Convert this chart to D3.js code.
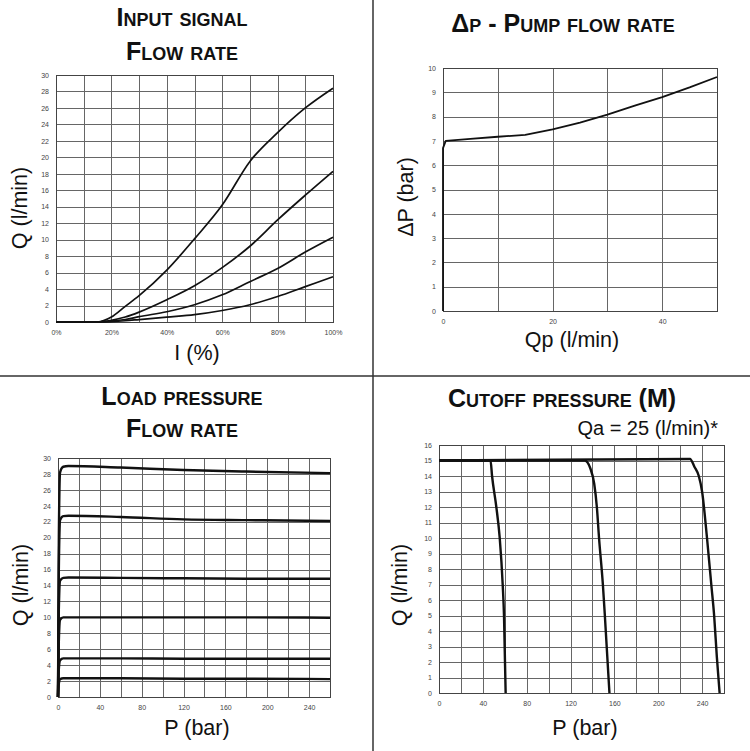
<!DOCTYPE html>
<html>
<head>
<meta charset="utf-8">
<script src="https://cdn.jsdelivr.net/npm/d3@7"></script>
<style>
  body { margin: 0; background: #fff; }
  svg { display: block; font-family: "Liberation Sans", Arial, Helvetica, sans-serif; }
</style>
</head>
<body>
<svg id="chart" width="750" height="751"></svg>
<script>
// Input signal / flow rate
const signalPct = [0, 15, 20, 25, 30, 40, 50, 60, 70, 80, 90, 100];
const flowA = [0, 0, 0.6, 1.9, 3.2, 6.3, 10.1, 14.2, 19.5, 23.0, 26.0, 28.4];
const flowB = [0, 0, 0.2, 0.6, 1.2, 2.7, 4.4, 6.6, 9.2, 12.4, 15.4, 18.3];
const flowC = [0, 0, 0.1, 0.3, 0.65, 1.25, 2.1, 3.3, 4.9, 6.5, 8.5, 10.3];
const flowD = [0, 0, 0.05, 0.15, 0.3, 0.6, 0.9, 1.4, 2.1, 3.1, 4.3, 5.5];

// Delta P / pump flow rate
const pumpQ = [0, 0, 0.5, 5, 10, 15, 20, 25, 30, 35, 40, 45, 50];
const deltaP = [0, 6.7, 7.0, 7.08, 7.17, 7.25, 7.47, 7.75, 8.08, 8.45, 8.8, 9.2, 9.63];

// Load pressure / flow rate
const loadP = [0, 0.8, 2, 5, 10, 60, 120, 180, 260];
const load29 = [0, 20, 28.2, 28.9, 29.0, 28.8, 28.5, 28.3, 28.1];
const load22 = [0, 16, 22.2, 22.7, 22.75, 22.6, 22.3, 22.2, 22.1];
const load15 = [0, 11, 14.6, 14.95, 15.0, 14.95, 14.9, 14.85, 14.85];
const load10 = [0, 7, 9.7, 10.0, 10.0, 10.0, 10.0, 10.0, 9.95];
const load5 = [0, 3.5, 4.6, 4.85, 4.85, 4.85, 4.8, 4.8, 4.8];
const load2 = [0, 1.7, 2.25, 2.35, 2.35, 2.35, 2.3, 2.3, 2.25];

// Cutoff pressure
const cut1P = [0, 47, 48.4, 52.3, 55.4, 58.1, 59.3, 60.8];
const cut1Q = [15, 15, 14, 12, 10, 7, 5, 0];
const cut2P = [0, 133, 138, 141.6, 144, 146, 149.5, 151.3, 155.5];
const cut2Q = [15, 15, 14.5, 13.5, 12, 10, 7, 5, 0];
const cut3P = [0, 229, 233, 237, 240, 244.5, 248.4, 251, 253.5, 256];
const cut3Q = [15, 15.1, 14.6, 14, 13, 10, 7, 5, 2.3, 0];

// Tick values
const signalGrid = d3.range(0, 101, 10);
const signalTicks = d3.range(0, 101, 20);
const flowTicks30 = d3.range(0, 31, 2);
const pumpGrid = d3.range(0, 51, 10);
const pumpTicks = [0, 20, 40];
const dpTicks = d3.range(0, 11, 1);
const pressGrid = d3.range(0, 261, 20);
const pressTicks = d3.range(0, 241, 40);
const cutTicks = d3.range(0, 17, 1);

const svg = d3.select('#chart');

// Cross dividers
svg.append('line').attr('x1', 373).attr('x2', 373).attr('y1', 0).attr('y2', 751)
    .attr('stroke', '#333').attr('stroke-width', 1.5);
svg.append('line').attr('x1', 0).attr('x2', 750).attr('y1', 376).attr('y2', 376)
    .attr('stroke', '#333').attr('stroke-width', 1.5);

// Title with small caps: lowercase letters become smaller capitals
const smallCapsTitle = (x, y, str, big, small, weight = 'bold') => {
    const t = svg.append('text').attr('x', x).attr('y', y)
        .attr('text-anchor', 'middle').attr('font-weight', weight).attr('fill', '#111');
    let runs = [];
    for (const ch of str) {
        const size = (ch !== ch.toUpperCase()) ? small : big;
        if (runs.length && runs[runs.length - 1].size === size) runs[runs.length - 1].s += ch.toUpperCase();
        else runs.push({ size, s: ch.toUpperCase() });
    }
    runs.forEach(r => t.append('tspan').attr('font-size', r.size).text(r.s));
    return t;
};

const plainText = (x, y, str, size, rotate = false, anchor = 'middle') => {
    const t = svg.append('text').attr('font-size', size).attr('fill', '#111')
        .attr('text-anchor', anchor).text(str);
    if (rotate) t.attr('transform', `translate(${x},${y}) rotate(-90)`);
    else t.attr('x', x).attr('y', y);
    return t;
};

// Draw one panel: grid, tick labels, frame, curves
const drawPanel = (o) => {
    const x = d3.scaleLinear().domain(o.xDomain).range(o.xRange);
    const y = d3.scaleLinear().domain(o.yDomain).range(o.yRange);
    const g = svg.append('g');
    const h = o.yRange[0] - o.yRange[1];
    const w = o.xRange[1] - o.xRange[0];

    // vertical grid
    g.append('g').attr('transform', `translate(0,${o.yRange[0]})`)
        .call(d3.axisBottom(x).tickValues(o.xGrid).tickSize(-h).tickFormat(''))
        .call(a => a.select('.domain').remove())
        .call(a => a.selectAll('line').attr('stroke', '#666').attr('shape-rendering', 'crispEdges'));
    // horizontal grid
    g.append('g').attr('transform', `translate(${o.xRange[0]},0)`)
        .call(d3.axisLeft(y).tickValues(o.yGrid).tickSize(-w).tickFormat(''))
        .call(a => a.select('.domain').remove())
        .call(a => a.selectAll('line').attr('stroke', '#666').attr('shape-rendering', 'crispEdges'));

    // x tick labels
    g.append('g').attr('transform', `translate(0,${o.yRange[0]})`)
        .call(d3.axisBottom(x).tickValues(o.xTicks).tickSize(0).tickPadding(8).tickFormat(o.xFormat || d3.format('d')))
        .call(a => a.select('.domain').remove())
        .call(a => a.selectAll('text').attr('font-size', 7).attr('fill', '#444')
            .attr('font-family', '"Liberation Sans", Arial, sans-serif'));
    // y tick labels
    g.append('g').attr('transform', `translate(${o.xRange[0]},0)`)
        .call(d3.axisLeft(y).tickValues(o.yGrid).tickSize(0).tickPadding(7).tickFormat(d3.format('d')))
        .call(a => a.select('.domain').remove())
        .call(a => a.selectAll('text').attr('font-size', 7).attr('fill', '#444')
            .attr('font-family', '"Liberation Sans", Arial, sans-serif'));

    // frame
    g.append('rect').attr('x', o.xRange[0]).attr('y', o.yRange[1]).attr('width', w).attr('height', h)
        .attr('fill', 'none').attr('stroke', '#444').attr('shape-rendering', 'crispEdges');

    // curves
    const line = d3.line().x(d => x(d[0])).y(d => y(d[1])).curve(o.curve || d3.curveLinear);
    o.series.forEach(s => {
        g.append('path').datum(s.xs.map((v, i) => [v, s.ys[i]]))
            .attr('d', line).attr('fill', 'none').attr('stroke', '#111')
            .attr('stroke-width', o.lineWidth).attr('stroke-linejoin', 'round');
    });
};

// Panel 1
drawPanel({
    xDomain: [0, 100], xRange: [56, 333], yDomain: [0, 30], yRange: [322, 75],
    xGrid: signalGrid, xTicks: signalTicks, yGrid: flowTicks30,
    xFormat: d => d + '%', curve: d3.curveMonotoneX, lineWidth: 1.7,
    series: [flowA, flowB, flowC, flowD].map(ys => ({ xs: signalPct, ys }))
});
smallCapsTitle(182, 26, 'Input signal', 25, 18);
smallCapsTitle(182, 60, 'Flow rate', 25, 18);
plainText(197, 360, 'I (%)', 21.5);
plainText(27, 208, 'Q (l/min)', 21.5, true);

// Panel 2
drawPanel({
    xDomain: [0, 50], xRange: [443, 717], yDomain: [0, 10], yRange: [311, 68],
    xGrid: pumpGrid, xTicks: pumpTicks, yGrid: dpTicks, lineWidth: 1.8,
    series: [{ xs: pumpQ, ys: deltaP }]
});
smallCapsTitle(563, 32, 'Δp - Pump flow rate', 25, 18);
plainText(572, 347, 'Qp (l/min)', 21.5);
plainText(413, 197, 'ΔP (bar)', 21.5, true);

// Panel 3
drawPanel({
    xDomain: [0, 260], xRange: [58, 330], yDomain: [0, 30], yRange: [697, 458],
    xGrid: pressGrid, xTicks: pressTicks, yGrid: flowTicks30,
    curve: d3.curveMonotoneX, lineWidth: 2.4,
    series: [load29, load22, load15, load10, load5, load2].map(ys => ({ xs: loadP, ys }))
});
smallCapsTitle(182, 405, 'Load pressure', 25, 18);
smallCapsTitle(182, 437, 'Flow rate', 25, 18);
plainText(197, 735, 'P (bar)', 21.5);
plainText(28, 585, 'Q (l/min)', 21.5, true);

// Panel 4
drawPanel({
    xDomain: [0, 260], xRange: [439, 724], yDomain: [0, 16], yRange: [693, 445],
    xGrid: pressGrid, xTicks: pressTicks, yGrid: cutTicks,
    curve: d3.curveMonotoneX, lineWidth: 2.4,
    series: [{ xs: cut1P, ys: cut1Q }, { xs: cut2P, ys: cut2Q }, { xs: cut3P, ys: cut3Q }]
});
smallCapsTitle(562, 407, 'Cutoff pressure (M)', 25, 18);
plainText(718, 435, 'Qa = 25 (l/min)*', 20, false, 'end');
plainText(585, 735, 'P (bar)', 21.5);
plainText(407, 585, 'Q (l/min)', 21.5, true);
</script>
</body>
</html>
